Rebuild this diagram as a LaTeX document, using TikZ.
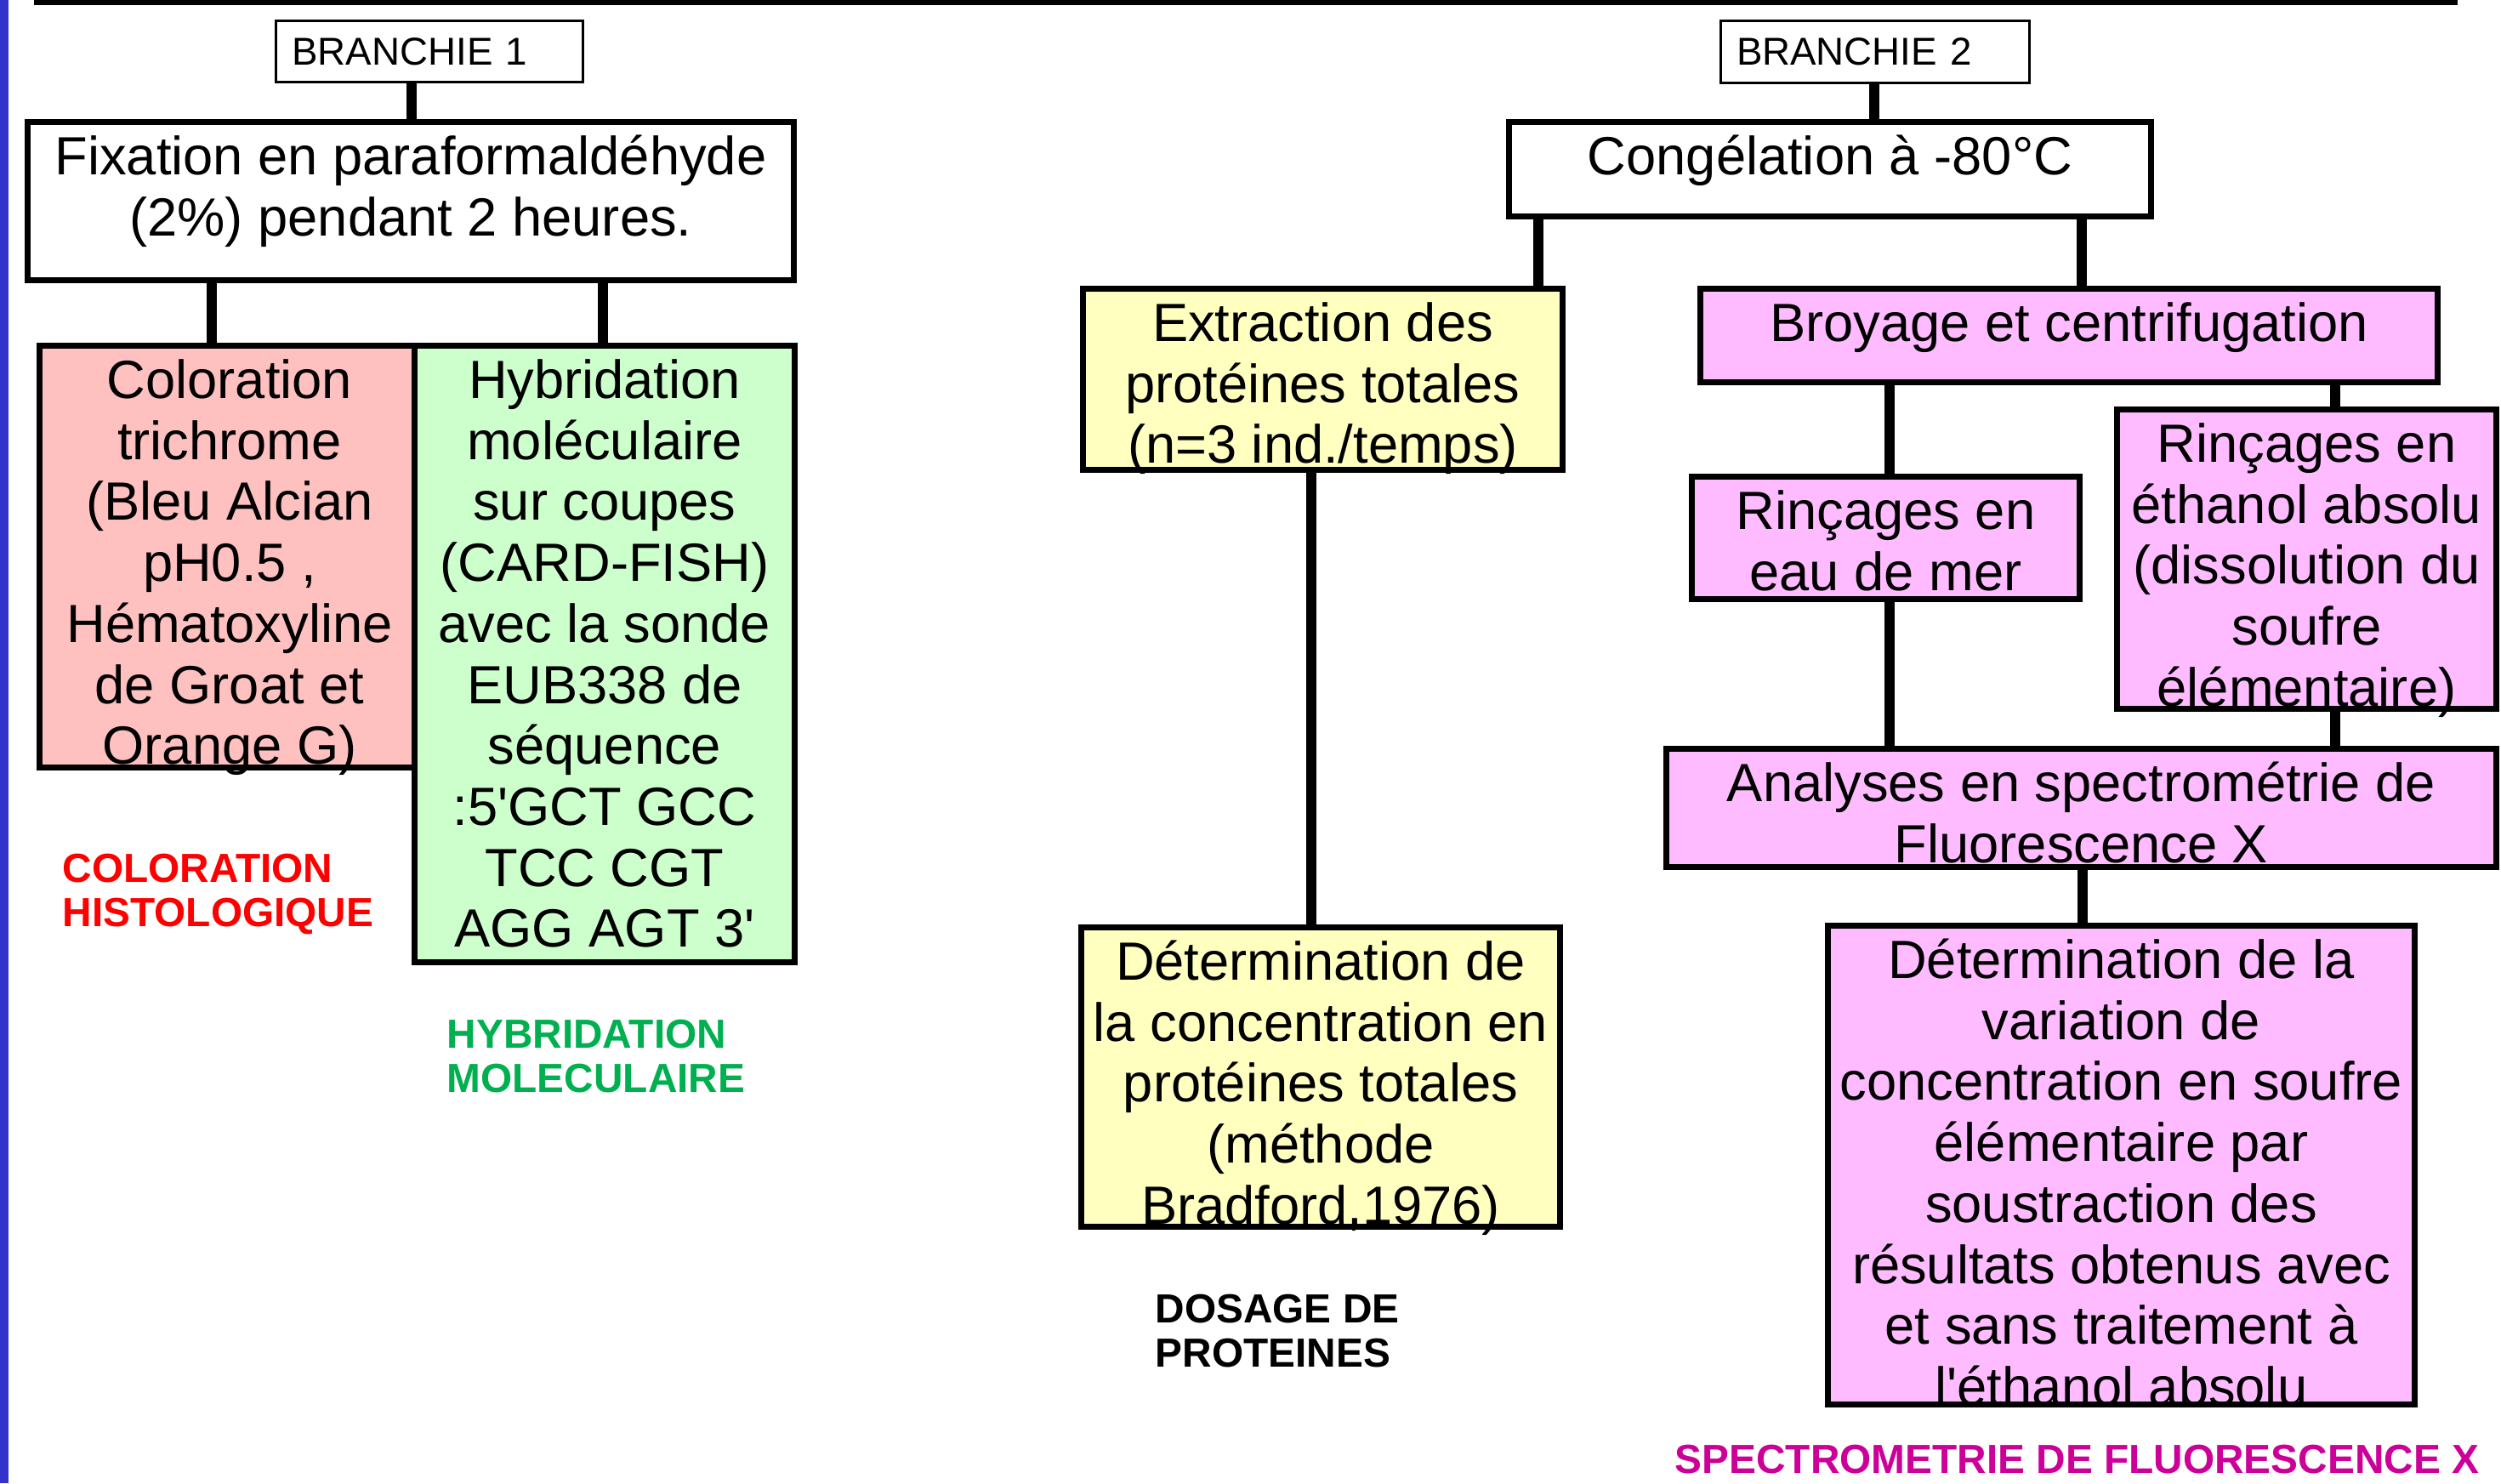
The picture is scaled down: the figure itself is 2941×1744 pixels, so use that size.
\documentclass[tikz,border=0pt]{standalone}
\usepackage{fontspec}
\setmainfont{Liberation Sans}
\usepackage{xcolor}
\usepackage{tikz}
\usetikzlibrary{positioning}
\definecolor{boxpink}{RGB}{255,192,192}
\definecolor{boxgreen}{RGB}{204,255,204}
\definecolor{boxyellow}{RGB}{255,255,192}
\definecolor{boxmauve}{RGB}{255,187,255}
\definecolor{tagred}{RGB}{255,0,0}
\definecolor{taggreen}{RGB}{0,176,80}
\definecolor{tagmauve}{RGB}{204,0,153}
\definecolor{edgeblue}{RGB}{51,51,204}
% text pinned to the top of a box of given width and height
\newcommand{\toptext}[3]{\parbox[c][#2][t]{#1}{\centering\rule{0pt}{6.2mm}#3}}
\newcommand{\sq}{\textquotesingle}

\begin{document}
\begin{tikzpicture}[x=0.1mm,y=-0.1mm,
    stage/.style={draw, line width=0.7mm, inner sep=0pt,
        font=\fontsize{18}{20.4}\selectfont},
    branch/.style={draw, line width=0.3mm, inner xsep=1.9mm, inner ysep=0pt,
        align=left, font=\fontsize{13}{15}\selectfont},
    link/.style={line width=1.2mm},
    tag/.style={anchor=north west, inner sep=0pt, align=left,
        font=\bfseries\fontsize{13.6}{14.8}\selectfont}]
  \useasboundingbox (0,0) rectangle (2941,1744);
  \fill[white] (0,0) rectangle (2941,1744);

    % page edges
    \fill[edgeblue] (0,0) rectangle (10,1744);
    \fill[black] (40,0) rectangle (2890,6);

    % gill 1
    \node[branch, text width=32.3mm, minimum height=7.2mm] (br1) at (505,60.5) {BRANCHIE 1};
    \node[stage] (fix) at (483,236.5)
        {\toptext{90.1mm}{18.6mm}{Fixation en paraformaldéhyde\\(2\%) pendant 2 heures.}};
    \node[stage, fill=boxpink] (col) at (270,654.5)
        {\toptext{44.7mm}{49.6mm}{Coloration\\trichrome\\(Bleu Alcian\\pH0.5 ,\\Hématoxyline\\de Groat et\\Orange G)}};
    \node[stage, fill=boxgreen] (hyb) at (711,769)
        {\toptext{44.7mm}{72.5mm}{Hybridation\\moléculaire\\sur coupes\\(CARD-FISH)\\avec la sonde\\EUB338 de\\séquence\\:5\sq GCT GCC\\TCC CGT\\AGG AGT 3\sq}};

    % gill 2
    \node[branch, text width=32.5mm, minimum height=7.3mm] (br2) at (2204.5,61) {BRANCHIE 2};
    \node[stage] (cong) at (2152,199)
        {\toptext{75.5mm}{11.1mm}{Congélation à -80°C}};
    \node[stage, fill=boxyellow] (ext) at (1555.5,446)
        {\toptext{56.4mm}{21.3mm}{Extraction des\\protéines totales\\(n=3 ind./temps)}};
    \node[stage, fill=boxyellow] (pro) at (1553,1266.5)
        {\toptext{56.3mm}{35.2mm}{Détermination de\\la concentration en\\protéines totales\\(méthode\\Bradford,1976)}};
    \node[stage, fill=boxmauve] (bro) at (2433,394.5)
        {\toptext{86.7mm}{11mm}{Broyage et centrifugation}};
    \node[stage, fill=boxmauve] (rie) at (2217.5,632.5)
        {\toptext{45.6mm}{14.4mm}{Rinçages en\\eau de mer}};
    \node[stage, fill=boxmauve] (rin) at (2712.5,657.5)
        {\toptext{44.6mm}{35.2mm}{Rinçages en\\éthanol absolu\\(dissolution du\\soufre\\élémentaire)}};
    \node[stage, fill=boxmauve] (ana) at (2447.5,950)
        {\toptext{97.6mm}{13.9mm}{Analyses en spectrométrie de\\Fluorescence X}};
    \node[stage, fill=boxmauve] (sou) at (2494.5,1370)
        {\toptext{69mm}{56.3mm}{Détermination de la\\variation de\\concentration en soufre\\élémentaire par\\soustraction des\\résultats obtenus avec\\et sans traitement à\\l\sq éthanol absolu}};

    % where the links drop
    \coordinate (br1X) at (484,0);
    \coordinate (fixL) at (249,0);
    \coordinate (fixR) at (709,0);
    \coordinate (br2X) at (2204,0);
    \coordinate (congL) at (1809,0);
    \coordinate (congR) at (2448,0);
    \coordinate (extX) at (1542,0);
    \coordinate (rieX) at (2222,0);
    \coordinate (rinX) at (2746,0);
    \coordinate (anaX) at (2449,0);

    % links
    \draw[link] (br1.south -| br1X) -- (fix.north -| br1X);
    \draw[link] (fix.south -| fixL) -- (col.north -| fixL);
    \draw[link] (fix.south -| fixR) -- (hyb.north -| fixR);
    \draw[link] (br2.south -| br2X) -- (cong.north -| br2X);
    \draw[link] (cong.south -| congL) -- (ext.north -| congL);
    \draw[link] (cong.south -| congR) -- (bro.north -| congR);
    \draw[link] (ext.south -| extX) -- (pro.north -| extX);
    \draw[link] (bro.south -| rieX) -- (rie.north -| rieX);
    \draw[link] (bro.south -| rinX) -- (rin.north -| rinX);
    \draw[link] (rie.south -| rieX) -- (ana.north -| rieX);
    \draw[link] (rin.south -| rinX) -- (ana.north -| rinX);
    \draw[link] (ana.south -| anaX) -- (sou.north -| anaX);

    % method labels
    \node[tag, text=tagred] (colTag) at (73,1003) {COLORATION\\HISTOLOGIQUE};
    \node[tag, text=taggreen] (hybTag) at (525,1198) {HYBRIDATION\\MOLECULAIRE};
    \node[tag] (dosTag) at (1358,1521) {DOSAGE DE\\PROTEINES};
    \node[tag, text=tagmauve] (spcTag) at (1969,1698) {SPECTROMETRIE DE FLUORESCENCE X};
\end{tikzpicture}
\end{document}
